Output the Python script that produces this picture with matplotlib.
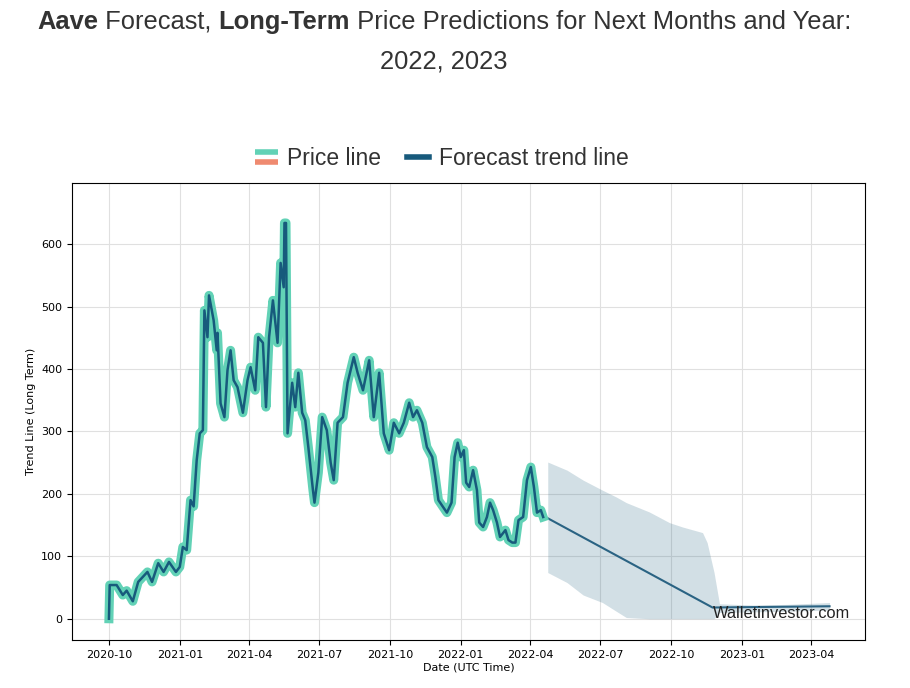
import matplotlib
matplotlib.use("Agg")
import matplotlib.pyplot as plt
import matplotlib.dates as mdates
from matplotlib.legend_handler import HandlerBase
from matplotlib.lines import Line2D
import pandas as pd

# historic price (USD)
price_dates = [
    "2020-10-01", "2020-10-02", "2020-10-11", "2020-10-19", "2020-10-24", "2020-11-01",
    "2020-11-08", "2020-11-20", "2020-11-26", "2020-12-04", "2020-12-11", "2020-12-18",
    "2020-12-27", "2021-01-01", "2021-01-05", "2021-01-10", "2021-01-15", "2021-01-19",
    "2021-01-23", "2021-01-27", "2021-01-31", "2021-02-02", "2021-02-06", "2021-02-08",
    "2021-02-14", "2021-02-18", "2021-02-19", "2021-02-23", "2021-02-28", "2021-03-04",
    "2021-03-08", "2021-03-12", "2021-03-17", "2021-03-24", "2021-03-30", "2021-04-03",
    "2021-04-09", "2021-04-13", "2021-04-19", "2021-04-23", "2021-04-27", "2021-05-02",
    "2021-05-08", "2021-05-12", "2021-05-16", "2021-05-17", "2021-05-19", "2021-05-21",
    "2021-05-27", "2021-05-31", "2021-06-04", "2021-06-09", "2021-06-13", "2021-06-17",
    "2021-06-23", "2021-06-25", "2021-06-30", "2021-07-05", "2021-07-11", "2021-07-16",
    "2021-07-20", "2021-07-25", "2021-08-01", "2021-08-07", "2021-08-15", "2021-08-20",
    "2021-08-27", "2021-09-04", "2021-09-10", "2021-09-17", "2021-09-23", "2021-09-30",
    "2021-10-06", "2021-10-13", "2021-10-19", "2021-10-26", "2021-10-31", "2021-11-05",
    "2021-11-12", "2021-11-18", "2021-11-25", "2021-11-29", "2021-12-03", "2021-12-09",
    "2021-12-14", "2021-12-20", "2021-12-24", "2021-12-28", "2022-01-01", "2022-01-05",
    "2022-01-08", "2022-01-12", "2022-01-17", "2022-01-22", "2022-01-25", "2022-01-30",
    "2022-02-04", "2022-02-08", "2022-02-12", "2022-02-17", "2022-02-21", "2022-02-28",
    "2022-03-04", "2022-03-09", "2022-03-13", "2022-03-17", "2022-03-23", "2022-03-28",
    "2022-04-02", "2022-04-06", "2022-04-10", "2022-04-15", "2022-04-18",
]
price_values = [
    0, 54, 54, 38, 45, 28,
    59, 75, 59, 89, 75, 91,
    75, 83, 115, 110, 190, 180,
    254, 297, 302, 494, 451, 518,
    478, 430, 458, 345, 323, 398,
    430, 382, 371, 330, 382, 403,
    366, 451, 442, 339, 451, 510,
    442, 570, 531, 634, 634, 297,
    378, 339, 394, 330, 318, 275,
    206, 186, 234, 323, 302, 250,
    222, 314, 323, 378, 419, 394,
    366, 414, 323, 394, 297, 270,
    314, 297, 314, 346, 323, 334,
    314, 275, 259, 227, 190, 179,
    170, 186, 259, 282, 259, 270,
    218, 211, 238, 206, 154, 147,
    163, 186, 174, 154, 131, 142,
    126, 122, 122, 158, 163, 222,
    243, 211, 170, 174, 163,
]

# forecast trend line
trend_dates = ["2022-04-18", "2022-11-24", "2023-04-25"]
trend_values = [165, 18, 20]

# forecast range
band_dates = ["2022-04-24", "2022-05-19", "2022-06-09", "2022-07-04", "2022-07-22",
              "2022-08-04", "2022-09-03", "2022-09-29", "2022-10-16", "2022-11-11",
              "2022-11-17", "2022-11-26", "2022-12-03", "2023-01-15", "2023-03-01",
              "2023-04-25"]
band_upper = [251, 238, 222, 206, 195, 186, 171, 154, 147, 138, 122, 74, 24, 22, 23, 26]
band_lower = [74, 58, 38, 26, 12, 2, 0, 0, 0, 0, 0, 0, 10, 11, 12, 14]

title_parts = [("Aave", "bold"), (" Forecast, ", "normal"), ("Long-Term", "bold"),
               (" Price Predictions for Next Months and Year:", "normal")]
title_line2 = "2022, 2023"

teal = "#62d2b6"
salmon = "#ef8a70"
dark = "#175a7c"


class TwoStripes(HandlerBase):
    def create_artists(self, legend, orig_handle, xdescent, ydescent,
                       width, height, fontsize, trans):
        top = Line2D([-xdescent, width - xdescent], [0.8 * height] * 2,
                     color=teal, lw=4, transform=trans, solid_capstyle="butt")
        bot = Line2D([-xdescent, width - xdescent], [0.15 * height] * 2,
                     color=salmon, lw=4, transform=trans, solid_capstyle="butt")
        return [top, bot]


pd_price = pd.to_datetime(price_dates)
pd_trend = pd.to_datetime(trend_dates)
pd_band = pd.to_datetime(band_dates)

fig = plt.figure(figsize=(9.1, 6.88), dpi=100)
ax = fig.add_axes([0.0791, 0.0698, 0.8714, 0.6642])

ax.fill_between(pd_band, band_lower, band_upper, color="#1f5f7f", alpha=0.2, lw=0)
ax.plot(pd_trend, trend_values, color="#2a6383", lw=1.5)
price_line, = ax.plot(pd_price, price_values, color=teal, lw=6.5, solid_joinstyle="round")
ax.plot(pd_price, price_values, color=dark, lw=1.8)

ax.set_xlim(pd.Timestamp("2020-08-14"), pd.Timestamp("2023-06-10"))
ax.set_ylim(-34, 698)
ax.set_yticks(range(0, 700, 100))
ax.xaxis.set_major_locator(mdates.MonthLocator(bymonth=[1, 4, 7, 10]))
ax.xaxis.set_major_formatter(mdates.DateFormatter("%Y-%m"))
ax.tick_params(labelsize=8)
ax.grid(True, color="#e0e0e0", lw=0.8)
ax.set_axisbelow(True)
ax.set_xlabel("Date (UTC Time)", fontsize=8, labelpad=2)
ax.set_ylabel("Trend Line (Long Term)", fontsize=8)

ax.text(0.808, 0.059, "Walletinvestor.com", transform=ax.transAxes, fontsize=11.8,
        color="#222222", va="center", ha="left", family="Liberation Sans")

fc_handle = Line2D([], [], color=dark, lw=4)
fig.legend([price_line, fc_handle], ["Price line", "Forecast trend line"],
           handler_map={price_line: TwoStripes()}, loc="center",
           bbox_to_anchor=(0.4855, 0.7703), ncol=2, frameon=False,
           prop={"family": "Liberation Sans", "size": 16.5}, labelcolor="#333333",
           handlelength=1.0, handletextpad=0.4, columnspacing=1.1)

# title with bold parts, laid out piece by piece on a common baseline
tprops = dict(family="Liberation Sans", fontsize=18.4, color="#333333")
texts = [fig.text(0, 1 - 29 / 688, s, fontweight=w, va="baseline", ha="left", **tprops)
         for s, w in title_parts]
fig.canvas.draw()
r = fig.canvas.get_renderer()
widths = [t.get_window_extent(r).width for t in texts]
x = 444 - sum(widths) / 2
for t, w in zip(texts, widths):
    t.set_x(x / 910)
    x += w
fig.text(444 / 910, 1 - 62 / 688, title_line2, ha="center", va="center", **tprops)

fig.savefig("out.png", dpi=100)
